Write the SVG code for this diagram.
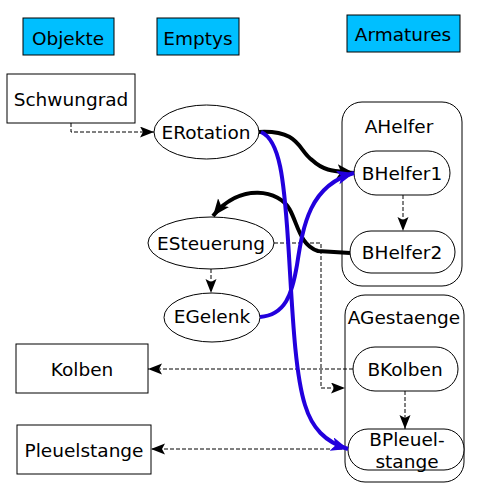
<svg xmlns="http://www.w3.org/2000/svg" width="481" height="485" viewBox="0 0 481 485">
<style>
text{font-family:"DejaVu Sans",sans-serif;font-size:18.5px;fill:#000;text-anchor:middle}
.hdr{fill:#00bfff;stroke:#000;stroke-width:1}
.box{fill:#fff;stroke:#000;stroke-width:1}
.dash{fill:none;stroke:#000;stroke-width:1;stroke-dasharray:4,2}
.blk{fill:none;stroke:#000;stroke-width:4}
.blu{fill:none;stroke:#2200dd;stroke-width:4}
</style>
<defs>
<marker id="a" markerUnits="userSpaceOnUse" markerWidth="15" markerHeight="13" refX="14" refY="5.5" orient="auto"><path d="M0,0 L14,5.5 L0,11 L3,5.5 Z" fill="#000"/></marker>
<marker id="ab" markerUnits="userSpaceOnUse" markerWidth="18" markerHeight="16" refX="17" refY="7" orient="auto"><path d="M0,0 L17,7 L0,14 L4,7 Z" fill="#000"/></marker>
<marker id="au" markerUnits="userSpaceOnUse" markerWidth="18" markerHeight="16" refX="17" refY="7" orient="auto"><path d="M0,0 L17,7 L0,14 L4,7 Z" fill="#2200dd"/></marker>
</defs>
<g id="hdr-objekte"><rect class="hdr" x="23" y="18" width="91" height="37"/><text x="68" y="45">Objekte</text></g>
<g id="hdr-emptys"><rect class="hdr" x="157" y="18" width="82" height="37"/><text x="198" y="45">Emptys</text></g>
<g id="hdr-armatures"><rect class="hdr" x="347" y="15" width="113" height="37"/><text x="403" y="41">Armatures</text></g>
<g id="AHelfer"><rect class="box" x="342" y="102" width="120" height="184" rx="20"/><text x="399" y="133">AHelfer</text></g>
<g id="AGestaenge"><rect class="box" x="345" y="295" width="119" height="187" rx="20"/><text x="404" y="324">AGestaenge</text></g>
<g id="Schwungrad"><rect class="box" x="7" y="74" width="128" height="49"/><text x="71" y="106">Schwungrad</text></g>
<g id="Kolben"><rect class="box" x="16" y="344" width="132" height="49"/><text x="82" y="376">Kolben</text></g>
<g id="Pleuelstange"><rect class="box" x="17" y="425" width="134" height="49"/><text x="84" y="457">Pleuelstange</text></g>
<g id="ERotation"><ellipse class="box" cx="206.5" cy="132" rx="52.5" ry="27"/><text x="206" y="139">ERotation</text></g>
<g id="ESteuerung"><ellipse class="box" cx="211" cy="243" rx="63" ry="26"/><text x="211" y="250">ESteuerung</text></g>
<g id="EGelenk"><ellipse class="box" cx="212" cy="317.5" rx="48" ry="24.5"/><text x="212" y="323">EGelenk</text></g>
<g id="BHelfer1"><rect class="box" x="354" y="151" width="96" height="44" rx="22"/><text x="402" y="180">BHelfer1</text></g>
<g id="BHelfer2"><rect class="box" x="350" y="231" width="105" height="42" rx="21"/><text x="402" y="259">BHelfer2</text></g>
<g id="BKolben"><rect class="box" x="353" y="347" width="105" height="44" rx="22"/><text x="405" y="376">BKolben</text></g>
<g id="BPleuelstange"><rect class="box" x="348" y="429" width="116" height="41" rx="20"/><text x="407" y="446">BPleuel-</text><text x="407" y="468">stange</text></g>
<g id="connectors">
<path class="dash" d="M71,123 V132 H154" marker-end="url(#a)"/>
<path class="dash" d="M211,269 V293" marker-end="url(#a)"/>
<path class="dash" d="M403,195 V231" marker-end="url(#a)"/>
<path class="dash" d="M274,243 H321 V388 H345" marker-end="url(#a)"/>
<path class="dash" d="M353,369 H148" marker-end="url(#a)"/>
<path class="dash" d="M405,391 V429" marker-end="url(#a)"/>
<path class="dash" d="M348,449 H151" marker-end="url(#a)"/>
<path class="blk" d="M259,132 C300,130 298,150 312,160 C325,172 335,171 354,173" marker-end="url(#ab)"/>
<path class="blk" d="M350,253 L318,251 C300,245 298,225 290,210 C280,190 240,182 213,216" marker-end="url(#ab)"/>
<path class="blu" d="M261,132 C280,140 284,180 288,240 C292,300 294,370 305,405 C312,428 325,442 348,449" marker-end="url(#au)"/>
<path class="blu" d="M260,317 C285,315 292,295 297,265 C303,225 310,185 354,173" marker-end="url(#au)"/>
</g>
</svg>
